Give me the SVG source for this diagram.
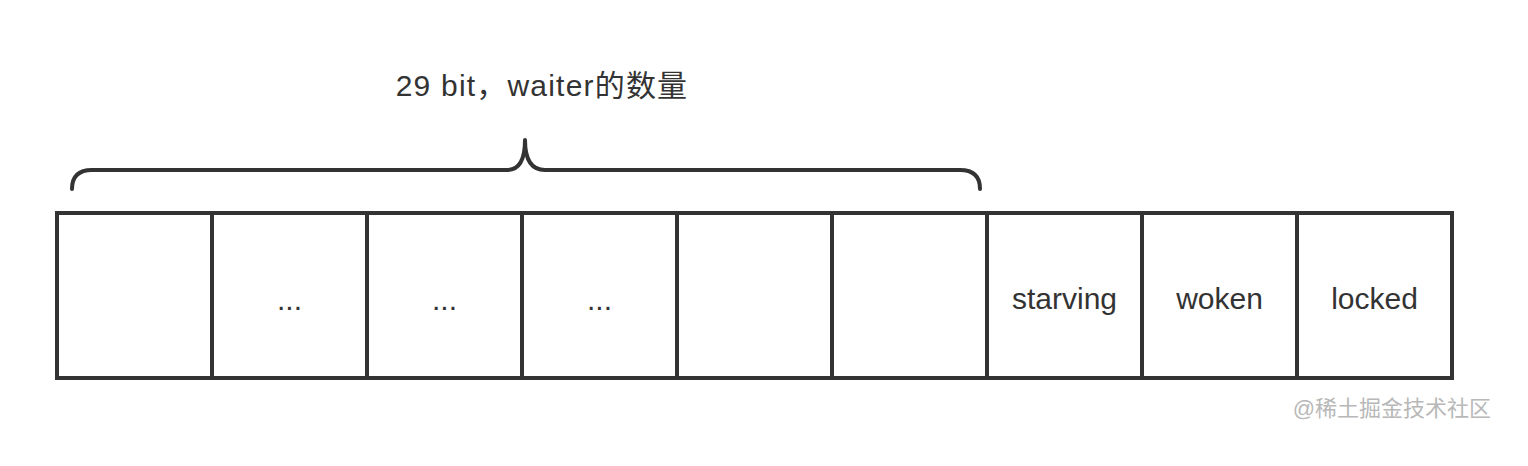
<svg xmlns="http://www.w3.org/2000/svg" width="1528" height="466" viewBox="0 0 1528 466">
<style>
.cell{fill:#fff;stroke:#333;stroke-width:4}
.lbl{font-family:"Liberation Sans","Noto Sans CJK SC",sans-serif;font-size:30px;fill:#333;text-anchor:middle}
.brace{fill:none;stroke:#333;stroke-width:4;stroke-linecap:round;stroke-linejoin:round}
</style>
<rect width="1528" height="466" fill="#fff"/>
<text class="lbl" x="542" y="96" style="font-size:30px;letter-spacing:1.2px">29 bit，waiter的数量</text>
<g id="connectors">
<path class="brace" d="M72 189 Q72 170 92 170 L507 170 Q525 170 525 140 Q525 170 545 170 L960 170 Q980 170 980 189"/>
</g>
<g id="cell1"><rect class="cell" x="57" y="213" width="155" height="165"/></g>
<g id="cell2"><rect class="cell" x="212" y="213" width="155" height="165"/><text class="lbl" x="289.5" y="310">...</text></g>
<g id="cell3"><rect class="cell" x="367" y="213" width="155" height="165"/><text class="lbl" x="444.5" y="310">...</text></g>
<g id="cell4"><rect class="cell" x="522" y="213" width="155" height="165"/><text class="lbl" x="599.5" y="310">...</text></g>
<g id="cell5"><rect class="cell" x="677" y="213" width="155" height="165"/></g>
<g id="cell6"><rect class="cell" x="832" y="213" width="155" height="165"/></g>
<g id="starving"><rect class="cell" x="987" y="213" width="155" height="165"/><text class="lbl" x="1064.5" y="309">starving</text></g>
<g id="woken"><rect class="cell" x="1142" y="213" width="155" height="165"/><text class="lbl" x="1219.5" y="309">woken</text></g>
<g id="locked"><rect class="cell" x="1297" y="213" width="155" height="165"/><text class="lbl" x="1374.5" y="309">locked</text></g>
<text x="1491" y="416" style="font-family:'Liberation Sans','Noto Sans CJK SC',sans-serif;font-size:22px;fill:#b8b8b8;text-anchor:end">@稀土掘金技术社区</text>
</svg>
